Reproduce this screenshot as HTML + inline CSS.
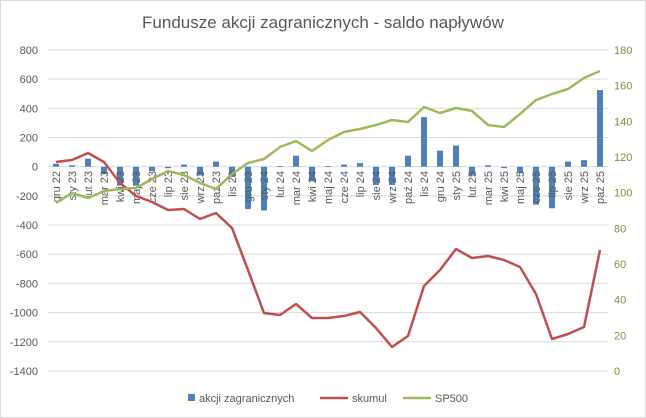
<!DOCTYPE html>
<html><head><meta charset="utf-8"><style>
body{margin:0;background:#fff}
svg{font-family:"Liberation Sans",sans-serif;display:block}
</style></head><body>
<svg id="c" width="646" height="418" viewBox="0 0 646 418"></svg>
<script>
(function(){
const s=document.getElementById('c');let h='';
h+='<rect x="0.5" y="0.5" width="645" height="417" fill="#fff" stroke="#d9d9d9"/>';
h+='<text x="323" y="28" text-anchor="middle" font-size="17" fill="#595959">Fundusze akcji zagranicznych - saldo napływów</text>';
const pTop=50,pBot=371,x0=48,cw=16;
const yL=v=>166.7-v*0.1459;
for(let i=0;i<12;i++){const v=800-i*200,y=yL(v);
 h+=`<line x1="${x0}" x2="608" y1="${y}" y2="${y}" stroke="#d9d9d9"/>`;
 h+=`<text x="38" y="${y+4}" text-anchor="end" font-size="11" fill="#595959">${v<0?'-'+(-v):v}</text>`;}
for(let i=0;i<10;i++){const v=180-i*20,y=pTop+i*(pBot-pTop)/9;
 h+=`<text x="614" y="${y+4}" font-size="11" fill="#77933c">${v}</text>`;}
const lab=['gru 22','sty 23','lut 23','mar 23','kwi 23','maj 23','cze 23','lip 23','sie 23','wrz 23','paź 23','lis 23','gru 23','sty 24','lut 24','mar 24','kwi 24','maj 24','cze 24','lip 24','sie 24','wrz 24','paź 24','lis 24','gru 24','sty 25','lut 25','mar 25','kwi 25','maj 25','cze 25','lip 25','sie 25','wrz 25','paź 25'];
const bars=[20,10,55,-50,-130,-130,-30,-10,15,-60,35,-70,-290,-300,5,75,-100,5,15,25,-125,-125,75,340,110,145,-60,10,-10,-45,-260,-285,35,45,525];
const sk=[162,160,153,162,183,196,202,210,209,219,213,228,270,313,315,304,318,318,316,312,328,347,336,286,270,249,258,256,260,267,294,339,334,327,250];
const sp=[203,193,198,191,189,188,179,171,175,183,189,174,163,159,147,141,151,140,132,129,125,120,122,107,113,108,111,125,127,114,100,94,89,78,71];
const z=yL(0);
bars.forEach((v,i)=>{const cx=x0+cw*i+cw/2,y=yL(v);
 h+=`<rect x="${cx-3}" y="${Math.min(y,z)}" width="6" height="${Math.abs(y-z)}" fill="#4f81bd"/>`;});
lab.forEach((t,i)=>{const cx=x0+cw*i+cw/2+4;
 h+=`<text transform="translate(${cx},171) rotate(-90)" text-anchor="end" font-size="11" fill="#595959">${t}</text>`;});
const pts=a=>a.map((y,i)=>`${x0+cw*i+cw/2},${y}`).join(' ');
h+=`<polyline points="${pts(sk)}" fill="none" stroke="#c0504d" stroke-width="2.5" stroke-linejoin="round"/>`;
h+=`<polyline points="${pts(sp)}" fill="none" stroke="#9bbb59" stroke-width="2.5" stroke-linejoin="round"/>`;
h+='<rect x="188" y="394" width="7" height="7" fill="#4f81bd"/><text x="199" y="402" font-size="11" fill="#595959">akcji zagranicznych</text>';
h+='<line x1="320" x2="348" y1="398" y2="398" stroke="#c0504d" stroke-width="2.5"/><text x="352" y="402" font-size="11" fill="#595959">skumul</text>';
h+='<line x1="403" x2="431" y1="398" y2="398" stroke="#9bbb59" stroke-width="2.5"/><text x="435" y="402" font-size="11" fill="#595959">SP500</text>';
s.innerHTML=h;
})();
</script>
</body></html>
